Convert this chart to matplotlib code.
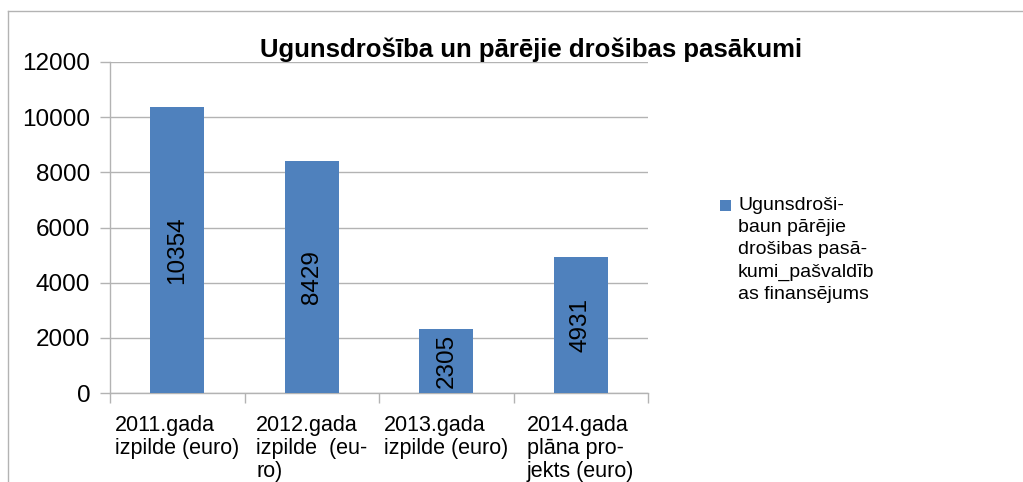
import matplotlib
matplotlib.use("Agg")
import matplotlib.pyplot as plt
from matplotlib.lines import Line2D
from matplotlib.patches import Rectangle
import matplotlib.transforms as mtransforms

plt.rcParams['font.family'] = ['Liberation Sans', 'DejaVu Sans']

categories = ["2011.gada\nizpilde (euro)", "2012.gada\nizpilde  (eu-\nro)",
              "2013.gada\nizpilde (euro)", "2014.gada\nplāna pro-\njekts (euro)"]
values = [10354, 8429, 2305, 4931]
yticks = [0, 2000, 4000, 6000, 8000, 10000, 12000]
title = "Ugunsdrošība un pārējie drošibas pasākumi"
legend_label = "Ugunsdroši-\nbaun pārējie\ndrošibas pasā-\nkumi_pašvaldīb\nas finansējums"

bar_color = "#4f81bd"
grid_color = "#b3b3b3"

fig = plt.figure(figsize=(10.23, 4.82), dpi=100)
ax = fig.add_axes([110/1023, 1-393/482, (648-110)/1023, (393-62)/482])

x = list(range(len(values)))
bars = ax.bar(x, values, width=0.4, color=bar_color, zorder=3)
for xi, v in zip(x, values):
    ax.text(xi, v/2, str(v), rotation=90, ha='center', va='center',
            fontsize=17.5, color='black', zorder=4)

ax.set_xlim(-0.5, len(values)-0.5)
ax.set_ylim(0, 12000)
ax.set_yticks(yticks)
ax.set_yticklabels([str(t) for t in yticks], fontsize=17.5)
ax.yaxis.grid(True, color=grid_color, linewidth=1)
ax.set_axisbelow(True)
ax.tick_params(axis='y', length=7.2, width=1, color=grid_color, pad=7)
ax.set_xticks([i - 0.5 for i in range(len(values)+1)])
ax.set_xticklabels([])
ax.tick_params(axis='x', length=7.5, width=1, color=grid_color)

for s in ['top', 'right']:
    ax.spines[s].set_visible(False)
for s in ['left', 'bottom']:
    ax.spines[s].set_color(grid_color)
    ax.spines[s].set_linewidth(1)

trans = mtransforms.blended_transform_factory(ax.transData, fig.transFigure)
for xi, lab in zip(x, categories):
    ax.text(xi, 1-415/482, lab, transform=trans, ha='center', va='top',
            multialignment='left', fontsize=15.5, linespacing=1.12)

fig.text(531/1023, 1-57/482, title, ha='center', va='baseline',
         fontsize=18.5, fontweight='bold')

# legend
fig.add_artist(Rectangle((720/1023, 1-211/482), 11/1023, 11/482,
                         transform=fig.transFigure, facecolor=bar_color,
                         edgecolor='none'))
fig.text(738/1023, 1-197/482, legend_label, ha='left', va='top',
         fontsize=14, linespacing=1.4)

# outer border lines
fig.add_artist(Line2D([8/1023, 1.0], [1-11/482, 1-11/482], transform=fig.transFigure,
                      color=grid_color, linewidth=1))
fig.add_artist(Line2D([8/1023, 8/1023], [1-11/482, 0], transform=fig.transFigure,
                      color=grid_color, linewidth=1))

fig.savefig("out.png", dpi=100)
